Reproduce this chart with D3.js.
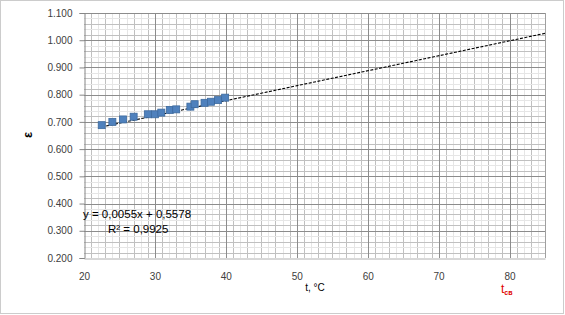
<!DOCTYPE html>
<html>
<head>
<meta charset="utf-8">
<script src="https://d3js.org/d3.v7.min.js"></script>
<style>
  body { margin: 0; background: #fff; }
  svg { display: block; font-family: "Liberation Sans", Arial, sans-serif; }
</style>
</head>
<body>
<div id="chart"></div>
<script>
// measured points (t, eps)
const temps = [22.5, 24.0, 25.5, 27.0, 29.0, 30.0, 30.9, 32.1, 33.0, 35.0, 35.6, 37.0, 37.9, 38.9, 39.9];
const eps   = [0.688, 0.700, 0.709, 0.719, 0.728, 0.728, 0.734, 0.744, 0.746, 0.756, 0.765, 0.770, 0.774, 0.780, 0.789];
// linear trend from the chart label
const trendCoef = [0.0055, 0.5578];
const trendRange = [22.5, 85];
const xTicks = [20, 30, 40, 50, 60, 70, 80];
const yTicks = [0.2, 0.3, 0.4, 0.5, 0.6, 0.7, 0.8, 0.9, 1.0, 1.1];

const width = 565, height = 315;
const margin = {top: 13, right: 20, bottom: 57, left: 84};

const svg = d3.select("#chart").append("svg")
    .attr("width", width).attr("height", height);

svg.append("rect")
    .attr("x", 0.5).attr("y", 0.5)
    .attr("width", width - 2).attr("height", height - 2)
    .attr("fill", "#fff")
    .attr("stroke", "#999")
    .attr("stroke-dasharray", "1,1");

const x = d3.scaleLinear().domain([20, 85]).range([margin.left, width - margin.right]);
const y = d3.scaleLinear().domain([0.2, 1.1]).range([height - margin.bottom, margin.top]);

const grid = svg.append("g");

// minor gridlines
grid.selectAll(".vmin")
  .data(d3.range(21, 85, 1).filter(d => d % 10 != 0))
  .join("line")
    .attr("x1", d => Math.round(x(d)) + 0.5).attr("x2", d => Math.round(x(d)) + 0.5)
    .attr("y1", y(1.1)).attr("y2", y(0.2))
    .attr("stroke", d => (d % 10 == 5 || d % 10 == 1 || d % 10 == 9 || d % 10 == 3 || d % 10 == 7) ? "#c0c0c0" : "#e6e6e6");

grid.selectAll(".hmin")
  .data(d3.range(0.22, 1.1, 0.02).filter(d => Math.abs(d * 10 - Math.round(d * 10)) > 0.01))
  .join("line")
    .attr("x1", x(20)).attr("x2", x(85))
    .attr("y1", d => Math.round(y(d)) + 0.5).attr("y2", d => Math.round(y(d)) + 0.5)
    .attr("stroke", (d, i) => i % 2 == 0 ? "#c0c0c0" : "#e6e6e6");

// major gridlines
grid.selectAll(".vmaj")
  .data(xTicks.slice(1))
  .join("line")
    .attr("x1", d => Math.round(x(d)) + 0.5).attr("x2", d => Math.round(x(d)) + 0.5)
    .attr("y1", y(1.1)).attr("y2", y(0.2))
    .attr("stroke", "#8c8c8c");

grid.selectAll(".hmaj")
  .data(yTicks.slice(1))
  .join("line")
    .attr("x1", x(20)).attr("x2", x(85))
    .attr("y1", d => Math.round(y(d)) + 0.5).attr("y2", d => Math.round(y(d)) + 0.5)
    .attr("stroke", "#8c8c8c");

// right border of plot
grid.append("line")
    .attr("x1", Math.round(x(85)) + 0.5).attr("x2", Math.round(x(85)) + 0.5)
    .attr("y1", y(1.1)).attr("y2", y(0.2))
    .attr("stroke", "#a0a0a0");

// axes
const yAxis = g => g
    .attr("transform", `translate(${margin.left + 0.5},0)`)
    .call(d3.axisLeft(y).tickValues(yTicks).tickFormat(d3.format(".3f")).tickSize(5).tickPadding(7))
    .call(g => g.selectAll("line, path").attr("stroke", "#868686"))
    .call(g => g.selectAll("text").attr("fill", "#404040").attr("font-size", 10));

const xAxis = g => g
    .attr("transform", `translate(0,${height - margin.bottom + 0.5})`)
    .call(d3.axisBottom(x).tickValues(xTicks).tickSize(0).tickPadding(14))
    .call(g => g.select(".domain").attr("stroke", "#b0b0b0"))
    .call(g => g.selectAll("text").attr("fill", "#404040").attr("font-size", 10));

svg.append("g").call(yAxis);
svg.append("g").call(xAxis);

// trendline
svg.append("line")
    .attr("x1", x(trendRange[0])).attr("x2", x(trendRange[1]))
    .attr("y1", y(trendCoef[0] * trendRange[0] + trendCoef[1]))
    .attr("y2", y(trendCoef[0] * trendRange[1] + trendCoef[1]))
    .attr("stroke", "#000")
    .attr("stroke-width", 1.1)
    .attr("stroke-dasharray", "3,1.5");

// markers
svg.append("g")
  .selectAll("rect")
  .data(temps.map((t, i) => ({t: t, e: eps[i]})))
  .join("rect")
    .attr("x", d => x(d.t) - 3.5)
    .attr("y", d => y(d.e) - 3.5)
    .attr("width", 7).attr("height", 7)
    .attr("fill", "#4f81bd")
    .attr("stroke", "#3d6a9e")
    .attr("stroke-width", 0.8);

// trend equation
svg.append("text")
    .attr("x", 83).attr("y", 218)
    .attr("font-size", 11.5).attr("fill", "#000")
    .text("y = 0,0055x + 0,5578");
svg.append("text")
    .attr("x", 108).attr("y", 233)
    .attr("font-size", 11.5).attr("fill", "#000")
    .text("R² = 0,9925");

// axis titles
svg.append("text")
    .attr("transform", "translate(32,135) rotate(-90)")
    .attr("text-anchor", "middle")
    .attr("font-size", 13).attr("font-weight", "bold")
    .text("ε");

svg.append("text")
    .attr("x", 315).attr("y", 291)
    .attr("text-anchor", "middle")
    .attr("font-size", 10)
    .text("t, °C");

const tsv = svg.append("text")
    .attr("x", 501).attr("y", 293)
    .attr("fill", "#e00000");
tsv.append("tspan").attr("font-size", 12).text("t");
tsv.append("tspan").attr("font-size", 7).attr("font-weight", "bold").attr("dy", 2).text("св");
</script>
</body>
</html>
